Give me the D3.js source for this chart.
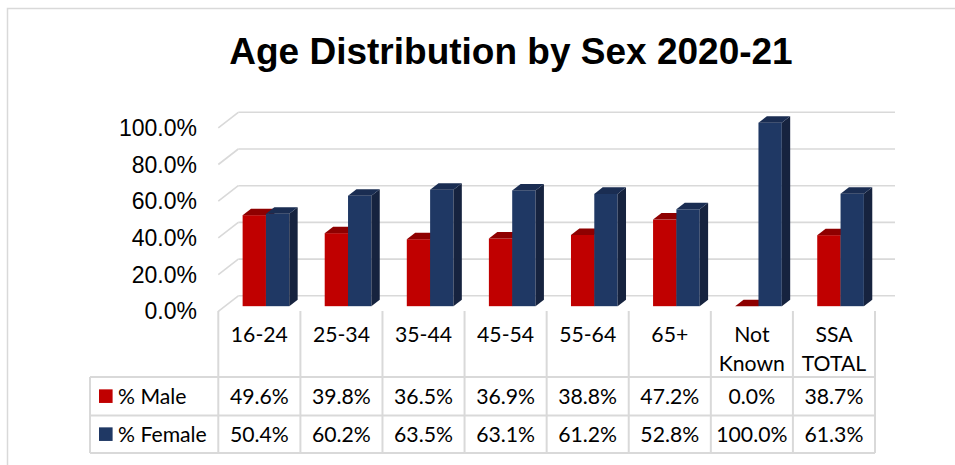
<!DOCTYPE html>
<html>
<head>
<meta charset="utf-8">
<script src="https://cdn.jsdelivr.net/npm/d3@7"></script>
<style>
  body { margin: 0; background: #fff; }
  svg { display: block; }
</style>
</head>
<body>
<div id="chart"></div>
<script>
const categories = ["16-24", "25-34", "35-44", "45-54", "55-64", "65+", "Not Known", "SSA TOTAL"];
const seriesNames = ["% Male", "% Female"];
const maleValues = [49.6, 39.8, 36.5, 36.9, 38.8, 47.2, 0.0, 38.7];
const femaleValues = [50.4, 60.2, 63.5, 63.1, 61.2, 52.8, 100.0, 61.3];
const yTicks = [0, 20, 40, 60, 80, 100];

const width = 955, height = 465;
const colors = {
  "% Male": { front: "#c00000", top: "#8e0000", side: "#7a0000" },
  "% Female": { front: "#1f3864", top: "#1a2d52", side: "#16233f" }
};

// depth of the 3d box, and where the bars sit inside it
const DX = 20, DY = -15.5;
const f0 = 0.33, f1 = 0.75;

const svg = d3.select("#chart").append("svg")
  .attr("width", width)
  .attr("height", height);

// outer chart border (runs off the right and bottom)
svg.append("rect")
  .attr("x", 7.5).attr("y", 8.5)
  .attr("width", 980).attr("height", 480)
  .attr("fill", "none")
  .attr("stroke", "#d9d9d9")
  .attr("stroke-width", 1.5);

svg.append("text")
  .attr("x", 511)
  .attr("y", 64)
  .attr("text-anchor", "middle")
  .style("font-family", "'Liberation Sans', Arial, sans-serif")
  .style("font-size", "37px")
  .style("font-weight", "bold")
  .text("Age Distribution by Sex 2020-21");

const x = d3.scaleBand()
  .domain(categories)
  .range([218.3, 875]);

const xs = d3.scaleBand()
  .domain(seriesNames)
  .range([0, x.bandwidth()])
  .paddingOuter(0.76);

const y = d3.scaleLinear()
  .domain([0, 100])
  .range([311.3, 127.8]);

// back wall and left wall gridlines
const grid = svg.append("g")
  .attr("stroke", "#d9d9d9")
  .attr("stroke-width", 1.6)
  .attr("fill", "none");

yTicks.forEach(t => {
  grid.append("line")
    .attr("x1", x.range()[0] + DX).attr("x2", x.range()[1] + DX)
    .attr("y1", y(t) + DY).attr("y2", y(t) + DY);
  grid.append("line")
    .attr("x1", x.range()[0]).attr("x2", x.range()[0] + DX)
    .attr("y1", y(t)).attr("y2", y(t) + DY);
});

svg.append("g")
  .selectAll("text")
  .data(yTicks)
  .enter()
  .append("text")
  .attr("x", 197)
  .attr("y", d => y(d) + 8)
  .attr("text-anchor", "end")
  .style("font-family", "'Liberation Sans', Arial, sans-serif")
  .style("font-size", "23px")
  .attr("fill", "#000")
  .text(d => d3.format(".1f")(d) + "%");

// bars
const rows = categories.map((c, i) => ({
  category: c,
  values: [
    { name: "% Male", value: maleValues[i] },
    { name: "% Female", value: femaleValues[i] }
  ]
}));

const bx = DX * f0, by = DY * f0;
const sx = DX * (f1 - f0), sy = DY * (f1 - f0);

rows.forEach(r => {
  r.values.forEach(v => {
    const x0 = x(r.category) + xs(v.name) + bx;
    const w = xs.bandwidth();
    const yb = y(0) + by;
    const yt = y(v.value) + by;
    const c = colors[v.name];
    const g = svg.append("g");
    if (yb - yt > 0.5) {
      g.append("rect")
        .attr("x", x0).attr("y", yt)
        .attr("width", w).attr("height", yb - yt)
        .attr("fill", c.front);
    }
    g.append("polygon")
      .attr("points", [[x0 + w, yb], [x0 + w + sx, yb + sy], [x0 + w + sx, yt + sy], [x0 + w, yt]].join(" "))
      .attr("fill", c.side);
    g.append("polygon")
      .attr("points", [[x0, yt], [x0 + sx, yt + sy], [x0 + w + sx, yt + sy], [x0 + w, yt]].join(" "))
      .attr("fill", c.top);
  });
});

// data table
const table = svg.append("g")
  .attr("stroke", "#d9d9d9")
  .attr("stroke-width", 2);

const tableLeft = 90, headTop = 311, rowTops = [377, 415.5, 453];

rowTops.forEach(t => {
  table.append("line")
    .attr("x1", tableLeft).attr("x2", x.range()[1])
    .attr("y1", t).attr("y2", t);
});
table.append("line")
  .attr("x1", tableLeft).attr("x2", tableLeft)
  .attr("y1", rowTops[0]).attr("y2", rowTops[2]);

const bounds = categories.map(c => x(c)).concat([x.range()[1]]);
bounds.forEach(b => {
  table.append("line")
    .attr("x1", b).attr("x2", b)
    .attr("y1", headTop).attr("y2", rowTops[2]);
});

const font = "Lato, 'Open Sans', sans-serif";
const fontSize = "21.2px";

categories.forEach(c => {
  const lines = c.split(" ");
  lines.forEach((l, k) => {
    svg.append("text")
      .attr("x", x(c) + x.bandwidth() / 2)
      .attr("y", 341.7 + k * 29)
      .attr("text-anchor", "middle")
      .style("font-family", font)
      .style("font-size", fontSize)
      .text(l);
  });
});

const rowValues = [maleValues, femaleValues];
const fmt = d => d3.format(".1f")(d) + "%";

seriesNames.forEach((s, k) => {
  const mid = (rowTops[k] + rowTops[k + 1]) / 2;
  svg.append("rect")
    .attr("x", 99).attr("y", mid - 6.9)
    .attr("width", 13.6).attr("height", 13.6)
    .attr("fill", colors[s].front);
  svg.append("text")
    .attr("x", 118)
    .attr("y", mid + 7.6)
    .style("font-family", font)
    .style("font-size", fontSize)
    .text(s);
  categories.forEach((c, i) => {
    svg.append("text")
      .attr("x", x(c) + x.bandwidth() / 2)
      .attr("y", mid + 7.6)
      .attr("text-anchor", "middle")
      .style("font-family", font)
      .style("font-size", fontSize)
      .text(fmt(rowValues[k][i]));
  });
});
</script>
</body>
</html>
